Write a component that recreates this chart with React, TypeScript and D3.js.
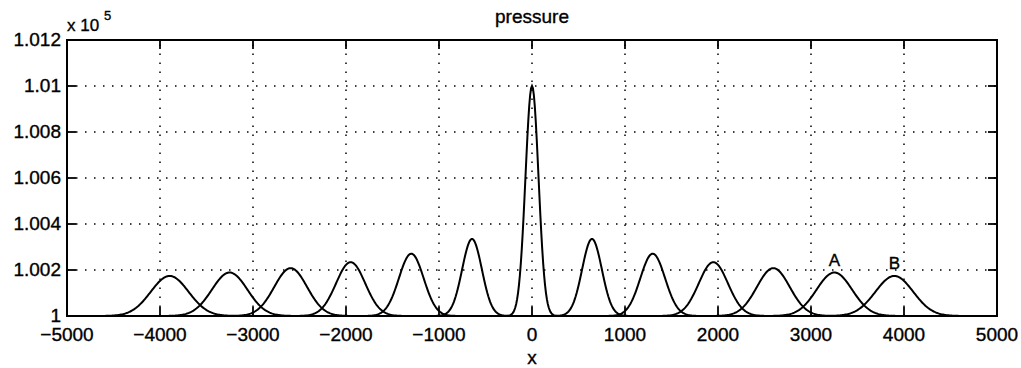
import React from "react";
import * as d3 from "d3";

// pulse snapshots (x position, peak pressure in 1e5 units, spread)
const pulseCenters = [-3896, -3251, -2595, -1950, -1298, -645, 0, 645, 1298, 1950, 2595, 3251, 3896];
const pulsePeaks = [1.00174, 1.00189, 1.00208, 1.00234, 1.00271, 1.00335, 1.01, 1.00335, 1.00271, 1.00234, 1.00208, 1.00189, 1.00174];
const pulseWidths = [203, 191, 177, 157, 133, 106, 70, 106, 133, 157, 177, 191, 203];
const baseline = 1;

const xTicks = [-5000, -4000, -3000, -2000, -1000, 0, 1000, 2000, 3000, 4000, 5000];
const yTicks = [1, 1.002, 1.004, 1.006, 1.008, 1.01, 1.012];
const yTickLabels = ["1", "1.002", "1.004", "1.006", "1.008", "1.01", "1.012"];

const markers = [
  { label: "A", index: 11 },
  { label: "B", index: 12 },
];

const W = 1021;
const H = 368;
const left = 67;
const right = 997;
const top = 40;
const bottom = 316;
const font = "'Liberation Sans', Arial, Helvetica, sans-serif";

export default function App() {
  const x = d3.scaleLinear().domain([-5000, 5000]).range([left, right]);
  const y = d3.scaleLinear().domain([1, 1.012]).range([bottom, top]);

  const samples = d3.range(-5000, 5001, 10);
  const line = d3
    .line<[number, number]>()
    .x((d) => x(d[0]))
    .y((d) => y(d[1]));

  const curves = pulseCenters.map((c, i) => {
    const amp = pulsePeaks[i] - baseline;
    const s = pulseWidths[i];
    const pts: [number, number][] = samples.map((t) => [
      t,
      baseline + amp * Math.exp(-((t - c) * (t - c)) / (2 * s * s)),
    ]);
    return line(pts) || "";
  });

  const tickLen = 9;

  return (
    <svg
      width={W}
      height={H}
      viewBox={`0 0 ${W} ${H}`}
      style={{ position: "absolute", left: 0, top: 0, background: "#fff" }}
      fontFamily={font}
    >
      <defs>
        <clipPath id="plot">
          <rect x={left} y={top} width={right - left} height={bottom - top} />
        </clipPath>
      </defs>

      {/* dotted grid */}
      <g stroke="#000" strokeWidth={1.5} strokeDasharray="1.5 7.5">
        {xTicks.slice(1, -1).map((t) => (
          <line key={"gx" + t} x1={x(t)} x2={x(t)} y1={bottom} y2={top} />
        ))}
        {yTicks.slice(1, -1).map((t) => (
          <line key={"gy" + t} x1={left} x2={right} y1={y(t)} y2={y(t)} />
        ))}
      </g>

      {/* curves */}
      <g clipPath="url(#plot)" fill="none" stroke="#000" strokeWidth={2}>
        {curves.map((d, i) => (
          <path key={i} d={d} />
        ))}
      </g>

      {/* box + ticks */}
      <rect x={left} y={top} width={right - left} height={bottom - top} fill="none" stroke="#000" strokeWidth={2} />
      <g stroke="#000" strokeWidth={1.8}>
        {xTicks.map((t) => (
          <g key={"tx" + t}>
            <line x1={x(t)} x2={x(t)} y1={bottom} y2={bottom - tickLen} />
            <line x1={x(t)} x2={x(t)} y1={top} y2={top + tickLen} />
          </g>
        ))}
        {yTicks.map((t) => (
          <g key={"ty" + t}>
            <line x1={left} x2={left + tickLen} y1={y(t)} y2={y(t)} />
            <line x1={right} x2={right - tickLen} y1={y(t)} y2={y(t)} />
          </g>
        ))}
      </g>

      <g fill="#000" stroke="#000" strokeWidth={0.35}>
        {/* tick labels */}
        <g fontSize={19}>
          {xTicks.map((t) => (
            <text key={"lx" + t} x={x(t)} y={341} textAnchor="middle">
              {t < 0 ? "\u2212" + Math.abs(t) : String(t)}
            </text>
          ))}
          {yTicks.map((t, i) => (
            <text key={"ly" + t} x={61} y={y(t) - 0.5} dy="0.36em" textAnchor="end">
              {yTickLabels[i]}
            </text>
          ))}
        </g>

        {/* exponent */}
        <text x={67} y={31} fontSize={17}>
          x 10
        </text>
        <text x={104} y={20} fontSize={13}>
          5
        </text>

        {/* title and axis label */}
        <text x={(left + right) / 2} y={23} fontSize={19} textAnchor="middle">
          pressure
        </text>
        <text x={(left + right) / 2} y={364} fontSize={19} textAnchor="middle">
          x
        </text>

        {/* markers */}
        {markers.map((m) => (
          <text
            key={m.label}
            x={x(pulseCenters[m.index])}
            y={y(pulsePeaks[m.index]) - 7}
            fontSize={17}
            textAnchor="middle"
          >
            {m.label}
          </text>
        ))}
      </g>
    </svg>
  );
}
